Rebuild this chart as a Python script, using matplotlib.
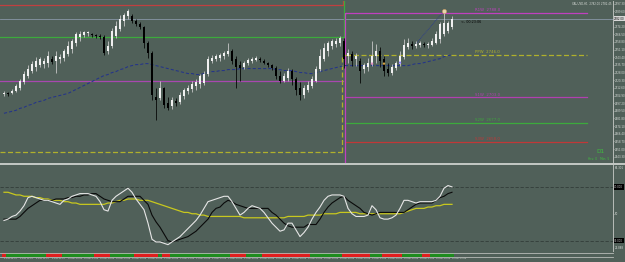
import matplotlib
matplotlib.use('Agg')
import matplotlib.pyplot as plt
import numpy as np

W, H = 625, 262
BG = '#506059'
FG = '#d8dcd8'

# ---------------- data ----------------
opens = [2706, 2707, 2707, 2709, 2712, 2718, 2725, 2730, 2734, 2736,
         2737, 2738, 2742, 2740, 2742, 2743, 2747, 2752, 2758, 2764,
         2766, 2768, 2767, 2766, 2765, 2764, 2750, 2755, 2765, 2772,
         2780, 2785, 2785, 2780, 2777, 2774, 2758, 2748, 2703, 2702,
         2712, 2697, 2694, 2699, 2698, 2704, 2709, 2711, 2714, 2716,
         2717, 2727, 2740, 2742, 2743, 2745, 2747, 2750, 2742, 2736,
         2734, 2738, 2740, 2741, 2742, 2740, 2738, 2736, 2733, 2725,
         2720, 2723, 2730, 2722, 2712, 2705, 2710, 2714, 2720, 2732,
         2742, 2750, 2755, 2757, 2758, 2760, 2745, 2747, 2742, 2740,
         2732, 2734, 2738, 2745, 2750, 2742, 2732, 2728, 2733, 2737,
         2744, 2754, 2757, 2755, 2756, 2757, 2756, 2756, 2758, 2762,
         2767, 2770, 2774]
closes = [2707, 2706, 2709, 2714, 2720, 2727, 2732, 2737, 2740, 2742,
          2740, 2745, 2739, 2745, 2744, 2750, 2755, 2760, 2767, 2767,
          2769, 2769, 2766, 2765, 2764, 2748, 2755, 2770, 2775, 2782,
          2786, 2790, 2780, 2777, 2774, 2758, 2748, 2705, 2700, 2712,
          2695, 2692, 2700, 2697, 2705, 2710, 2712, 2716, 2718, 2725,
          2727, 2742, 2743, 2745, 2746, 2748, 2750, 2740, 2734, 2733,
          2738, 2741, 2742, 2743, 2741, 2738, 2736, 2733, 2725, 2720,
          2725, 2730, 2722, 2710, 2705, 2712, 2715, 2722, 2732, 2745,
          2753, 2758, 2760, 2760, 2763, 2742, 2748, 2740, 2745, 2730,
          2736, 2738, 2745, 2750, 2740, 2730, 2728, 2734, 2738, 2745,
          2756, 2758, 2755, 2757, 2758, 2756, 2757, 2760, 2767, 2777,
          2778, 2778, 2782]
highs = [2709, 2708, 2711, 2716, 2722, 2730, 2736, 2740, 2744, 2744,
         2743, 2750, 2745, 2750, 2747, 2752, 2760, 2762, 2769, 2770,
         2770, 2770, 2768, 2767, 2767, 2766, 2760, 2773, 2780, 2786,
         2788, 2792, 2787, 2782, 2779, 2775, 2760, 2750, 2712, 2720,
         2713, 2703, 2703, 2702, 2708, 2712, 2715, 2720, 2722, 2727,
         2730, 2745, 2746, 2747, 2748, 2750, 2758, 2752, 2745, 2740,
         2740, 2743, 2744, 2745, 2744, 2742, 2739, 2737, 2735, 2730,
         2728, 2733, 2732, 2724, 2718, 2715, 2720, 2725, 2735, 2752,
         2758, 2760, 2762, 2763, 2765, 2763, 2752, 2750, 2748, 2743,
         2738, 2743, 2760, 2757, 2754, 2745, 2738, 2737, 2740, 2750,
         2762, 2763, 2760, 2760, 2760, 2759, 2759, 2763, 2770, 2779,
         2790, 2780, 2785]
lows = [2704, 2704, 2706, 2708, 2710, 2716, 2723, 2728, 2730, 2734,
        2733, 2734, 2737, 2728, 2738, 2740, 2745, 2748, 2755, 2760,
        2764, 2765, 2764, 2763, 2762, 2746, 2747, 2753, 2763, 2770,
        2775, 2782, 2778, 2775, 2772, 2753, 2743, 2700, 2680, 2700,
        2692, 2690, 2691, 2694, 2696, 2701, 2706, 2708, 2710, 2712,
        2715, 2725, 2738, 2740, 2740, 2742, 2745, 2737, 2712, 2720,
        2732, 2736, 2738, 2740, 2739, 2737, 2734, 2731, 2722, 2717,
        2718, 2720, 2715, 2705, 2700, 2702, 2708, 2712, 2718, 2730,
        2740, 2745, 2752, 2754, 2755, 2733, 2738, 2735, 2735, 2717,
        2728, 2730, 2735, 2738, 2734, 2725, 2725, 2726, 2731, 2735,
        2742, 2752, 2752, 2753, 2754, 2754, 2753, 2755, 2757, 2758,
        2765, 2768, 2772]
ma_line = [2687, 2688, 2689, 2690, 2692, 2693, 2695, 2696, 2698, 2699,
           2700, 2702, 2703, 2704, 2705, 2706, 2707, 2709, 2711, 2713,
           2715, 2717, 2719, 2721, 2723, 2725, 2726, 2728, 2729, 2731,
           2732, 2734, 2735, 2736, 2736, 2737, 2737, 2736, 2735, 2734,
           2733, 2732, 2731, 2730, 2729, 2728, 2727, 2727, 2726, 2726,
           2727, 2728, 2729, 2729, 2730, 2730, 2731, 2731, 2731, 2732,
           2732, 2732, 2732, 2732, 2732, 2732, 2732, 2732, 2731, 2731,
           2730, 2730, 2730, 2729, 2728, 2728, 2727, 2727, 2728, 2729,
           2730, 2731, 2732, 2733, 2734, 2735, 2735, 2735, 2735, 2735,
           2735, 2735, 2735, 2735, 2735, 2735, 2735, 2735, 2735, 2735,
           2735, 2735, 2736, 2737, 2737, 2738, 2739, 2740, 2741, 2742,
           2744, 2745, 2746]
osc_fast = [45, 46, 48, 49, 52, 56, 62, 63, 62, 61,
            60, 60, 59, 58, 57, 60, 61, 63, 64, 65,
            65, 65, 64, 63, 59, 53, 52, 60, 63, 65,
            67, 69, 66, 61, 57, 53, 43, 31, 29, 29,
            28, 27, 29, 31, 33, 36, 39, 42, 45, 49,
            54, 59, 60, 61, 62, 63, 63, 59, 54, 49,
            51, 54, 56, 55, 54, 51, 47, 43, 40, 37,
            38, 43, 43, 38, 33, 36, 40, 46, 51, 55,
            60, 63, 64, 64, 64, 63, 54, 50, 48, 48,
            48, 49, 56, 53, 47, 46, 46, 47, 49, 54,
            60, 60, 59, 58, 59, 59, 59, 59, 60, 63,
            69, 71, 70]
osc_slow = [46, 46, 46, 46, 48, 51, 54, 56, 58, 60,
            60, 60, 60, 61, 61, 61, 62, 62, 63, 63,
            64, 64, 65, 65, 63, 61, 60, 59, 59, 59,
            61, 63, 63, 63, 63, 60, 57, 49, 44, 40,
            35, 30, 29, 30, 31, 32, 33, 35, 37, 40,
            43, 46, 51, 54, 55, 58, 60, 59, 57, 56,
            55, 54, 54, 54, 54, 54, 54, 51, 49, 46,
            43, 41, 40, 40, 40, 40, 42, 42, 42, 46,
            51, 55, 58, 60, 62, 63, 60, 58, 56, 54,
            51, 50, 49, 50, 51, 51, 51, 51, 51, 51,
            51, 53, 55, 57, 58, 58, 58, 58, 60, 62,
            63, 65, 66]
osc_signal = [66, 66, 65, 64, 64, 63, 63, 63, 62, 62,
              61, 61, 60, 60, 60, 59, 59, 58, 58, 57,
              57, 57, 57, 57, 57, 57, 58, 58, 59, 60,
              60, 61, 61, 61, 60, 60, 60, 59, 58, 57,
              56, 55, 54, 53, 52, 51, 51, 50, 50, 49,
              49, 48, 48, 48, 48, 48, 48, 48, 48, 48,
              47, 47, 47, 47, 47, 47, 47, 47, 47, 47,
              47, 48, 48, 48, 48, 48, 49, 49, 49, 49,
              50, 50, 50, 50, 51, 51, 51, 51, 51, 50,
              50, 50, 50, 50, 50, 50, 50, 50, 50, 50,
              51, 52, 53, 54, 54, 54, 55, 55, 56, 56,
              57, 57, 57]
strip_state = [0, 1, 1, 1, 1, 1, 1, 1, 1, 1, 1, 0, 0, 0, 0, 1, 1, 1, 1, 1,
               1, 1, 1, 0, 0, 0, 0, 1, 1, 1, 1, 1, 1, 0, 0, 0, 0, 0, 0, 1,
               0, 0, 1, 1, 1, 1, 1, 1, 1, 1, 1, 1, 1, 1, 1, 1, 1, 0, 0, 0,
               0, 1, 1, 1, 1, 0, 0, 0, 0, 0, 0, 0, 0, 0, 0, 0, 0, 1, 1, 1,
               1, 1, 1, 1, 1, 0, 0, 0, 0, 0, 0, 0, 1, 1, 1, 0, 0, 0, 0, 0,
               1, 1, 1, 1, 1, 0, 0, 1, 1, 1, 1, 1, 1]

prev_levels = [2796, 2764, 2720, 2648]
prev_colors = ['#c04040', '#3caa3c', '#a848b0', '#b0b02c']
prev_styles = ['-', '-', '-', (0, (4, 2))]
week_levels = [2788, 2746, 2703, 2677, 2658]
week_names = ['R1W', 'PPW', 'S1W', 'S2W', 'S3W']
week_colors = ['#c040c0', '#b0b02c', '#b040b0', '#3caa3c', '#c03838']
week_styles = ['-', (0, (4, 2)), '-', '-', '-']
current_price = 2782
price_ticks = [2797.3, 2789.6, 2774.2, 2766.5, 2758.8, 2751.1, 2743.4, 2735.7,
               2728.0, 2720.3, 2712.6, 2704.9, 2697.2, 2689.5, 2681.8, 2674.1,
               2666.4, 2658.7, 2651.0, 2643.3]
zigzag_bars = [103, 110]
zigzag_prices = [2757, 2790]
marker_bars = [92, 95, 99]
marker_prices = [2737, 2737, 2738]
marker_colors = ['#e08fc8', '#d9a441', '#8a7cff']
osc_levels = [70, 30]
time_labels = ['9 Dec 08:00', '9 Dec 12:00', '9 Dec 16:00', '9 Dec 20:00', '10 Dec 00:00',
               '10 Dec 04:00', '10 Dec 08:00', '10 Dec 12:00', '10 Dec 16:00', '10 Dec 20:00',
               '11 Dec 00:00', '11 Dec 04:00', '11 Dec 08:00', '11 Dec 12:00', '11 Dec 16:00',
               '11 Dec 20:00', '12 Dec 00:00', '12 Dec 04:00', '12 Dec 08:00', '12 Dec 12:00',
               '12 Dec 16:00', '12 Dec 20:00', '13 Dec 00:00', '13 Dec 04:00', '13 Dec 08:00',
               '16 Dec 00:00', '16 Dec 04:00', '16 Dec 08:00', '16 Dec 12:00']

n = len(closes)
idx = np.arange(n)
axw = 613 / W
XMIN, XMAX = -1, 613 / 4 - 1
LW = 0.9

fig = plt.figure(figsize=(W / 100, H / 100), dpi=100, facecolor=BG)

# ---------------- main panel ----------------
ax = fig.add_axes([0, 1 - 163 / H, axw, 162 / H], facecolor=BG)
ax.set_xlim(XMIN, XMAX)
ax.set_ylim(2637, 2800)

prev_end = 84.8
new_start, new_end = 85.5, 145.75
for lv, c, ls in zip(prev_levels, prev_colors, prev_styles):
    ax.plot([XMIN, prev_end], [lv, lv], color=c, ls=ls, lw=LW, zorder=2)
for lv, c, ls, nm in zip(week_levels, week_colors, week_styles, week_names):
    ax.plot([new_start, new_end], [lv, lv], color=c, ls=ls, lw=LW, zorder=2)
    ax.text(120.8, lv + 0.8, f'{nm}  {lv:.1f}', color=c, fontsize=2.8,
            ha='center', va='bottom', zorder=3)
# connectors at week boundary
ax.plot([prev_end, prev_end], [prev_levels[0], 2800], color=prev_colors[0], lw=LW)
ax.plot([prev_end + 0.15, prev_end + 0.15], [prev_levels[1], 2800], color=prev_colors[1], lw=LW)
ax.plot([new_start - 0.3, new_start - 0.3, new_start], [2637, week_levels[0], week_levels[0]],
        color=week_colors[0], lw=LW)
ax.plot([prev_end - 0.3, prev_end - 0.3, new_start], [prev_levels[3], week_levels[1], week_levels[1]],
        color=prev_colors[3], ls=(0, (4, 2)), lw=LW)

# current price line
ax.axhline(current_price, color='#8896a6', lw=0.6, zorder=1)

# MA
ax.plot(idx, ma_line, color='#24348a', lw=0.75, ls=(0, (3, 2)), zorder=3)

# candles
o = np.array(opens); c = np.array(closes)
hi = np.array(highs); lo = np.array(lows)
up = c >= o
ax.vlines(idx[up], lo[up], hi[up], colors='#d0d0d0', lw=0.55, zorder=4)
ax.vlines(idx[~up], lo[~up], hi[~up], colors='#000000', lw=0.55, zorder=4)
body_h = np.maximum(np.abs(c - o), 0.8)
body_b = np.minimum(o, c)
ax.bar(idx[up], body_h[up], bottom=body_b[up], width=0.45, color='#f0f0f0',
       edgecolor='none', zorder=5)
ax.bar(idx[~up], body_h[~up], bottom=body_b[~up], width=0.45, color='#000000',
       edgecolor='none', zorder=5)

# zigzag and markers
ax.plot(zigzag_bars, zigzag_prices, color='#2a3a90', lw=0.6, ls=(0, (1, 1)), zorder=3)
ax.scatter([110], [highs[110]], s=9, facecolor='#e8d6ae', edgecolor='#c89a60',
           lw=0.4, zorder=6)
ax.scatter(marker_bars, marker_prices, s=3, c=marker_colors, zorder=6, lw=0)

# countdown label
ax.text(114.3, current_price - 3, '<- 00:23:06', color='#000000', fontsize=2.4,
        ha='left', va='center', zorder=6)

# right axis
for s in ['top', 'left', 'bottom']:
    ax.spines[s].set_visible(False)
ax.spines['right'].set_color('#b8bcb8')
ax.spines['right'].set_linewidth(0.7)
ax.yaxis.tick_right()
ax.set_yticks(price_ticks)
ax.set_yticklabels([f'{t:.2f}' for t in price_ticks])
ax.tick_params(axis='y', colors=FG, labelsize=1.9, length=1.0, width=0.4, pad=0.5)
ax.set_xticks([])
ax.text(1.002, current_price, f'{current_price:.2f}', transform=ax.get_yaxis_transform(),
        fontsize=1.9, color='#000000', va='center', ha='left',
        bbox=dict(boxstyle='square,pad=0.2', fc='#d8d8d8', ec='none'))
ax.text(0.997, 0.993, 'XAUUSD,H1  2782.00 2782.45', transform=ax.transAxes,
        fontsize=1.9, color=FG, ha='right', va='top')
ax.text(0.979, 0.055, 'D1', transform=ax.transAxes, fontsize=4.2, color='#3fbf3f',
        ha='center', va='bottom')
ax.text(0.976, 0.012, 'Hrs: 0   Min: 5', transform=ax.transAxes, fontsize=2.2,
        color='#3fbf3f', ha='center', va='bottom')

# separator
fig.add_artist(plt.Line2D([0, 1], [1 - 163.5 / H, 1 - 163.5 / H], color='#c4c8c4',
                          lw=1.4, transform=fig.transFigure))

# ---------------- oscillator ----------------
ax2 = fig.add_axes([0, 1 - 251.5 / H, axw, 86.5 / H], facecolor=BG)
ax2.set_xlim(XMIN, XMAX)
ax2.set_ylim(21.9, 86.3)
for lv in osc_levels:
    ax2.axhline(lv, color='#333d39', lw=0.6, ls=(0, (4, 2)))
ax2.plot(idx, osc_signal, color='#c8c81e', lw=0.9, zorder=3)
ax2.plot(idx, osc_slow, color='#0a0a0a', lw=0.8, zorder=4)
ax2.plot(idx, osc_fast, color='#e6e6e6', lw=0.8, zorder=5)
for s in ['top', 'left', 'bottom']:
    ax2.spines[s].set_visible(False)
ax2.spines['right'].set_color('#b8bcb8')
ax2.spines['right'].set_linewidth(0.7)
ax2.yaxis.tick_right()
ax2.set_yticks([50])
ax2.set_yticklabels(['50'])
ax2.tick_params(axis='y', colors=FG, labelsize=1.9, length=1.0, width=0.4, pad=0.5)
ax2.set_xticks([])
for lv in osc_levels:
    ax2.text(1.002, lv, f'{lv:.3f}', transform=ax2.get_yaxis_transform(), fontsize=1.9,
             color='#d0d0d0', va='center', ha='left',
             bbox=dict(boxstyle='square,pad=0.25', fc='#000000', ec='none'))
ax2.text(1.003, 0.985, '86.301', transform=ax2.transAxes, fontsize=1.9, color=FG,
         va='top', ha='left')
ax2.text(1.003, 0.02, '21.888', transform=ax2.transAxes, fontsize=1.9, color=FG,
         va='bottom', ha='left')

# bottom strip
ax3 = fig.add_axes([0, 1 - 257 / H, axw, 4.5 / H], facecolor=BG)
ax3.set_xlim(XMIN, XMAX)
ax3.set_ylim(0, 1)
st = np.array(strip_state)
ax3.bar(idx[st == 1], 1, width=0.8, color='#1e8c1e', edgecolor='none')
ax3.bar(idx[st == 0], 1, width=0.8, color='#e01e1e', edgecolor='none')
for s in ['left', 'right']:
    ax3.spines[s].set_visible(False)
for s in ['top', 'bottom']:
    ax3.spines[s].set_color('#b8bcb8')
    ax3.spines[s].set_linewidth(0.6)
ax3.set_xticks(np.arange(len(time_labels)) * 4)
ax3.set_xticklabels(time_labels)
ax3.set_yticks([])
ax3.tick_params(axis='x', colors=FG, labelsize=1.5, length=0, pad=0.6)
for lab in ax3.get_xticklabels():
    lab.set_ha('left')

fig.savefig('out.png', dpi=100, facecolor=BG)
